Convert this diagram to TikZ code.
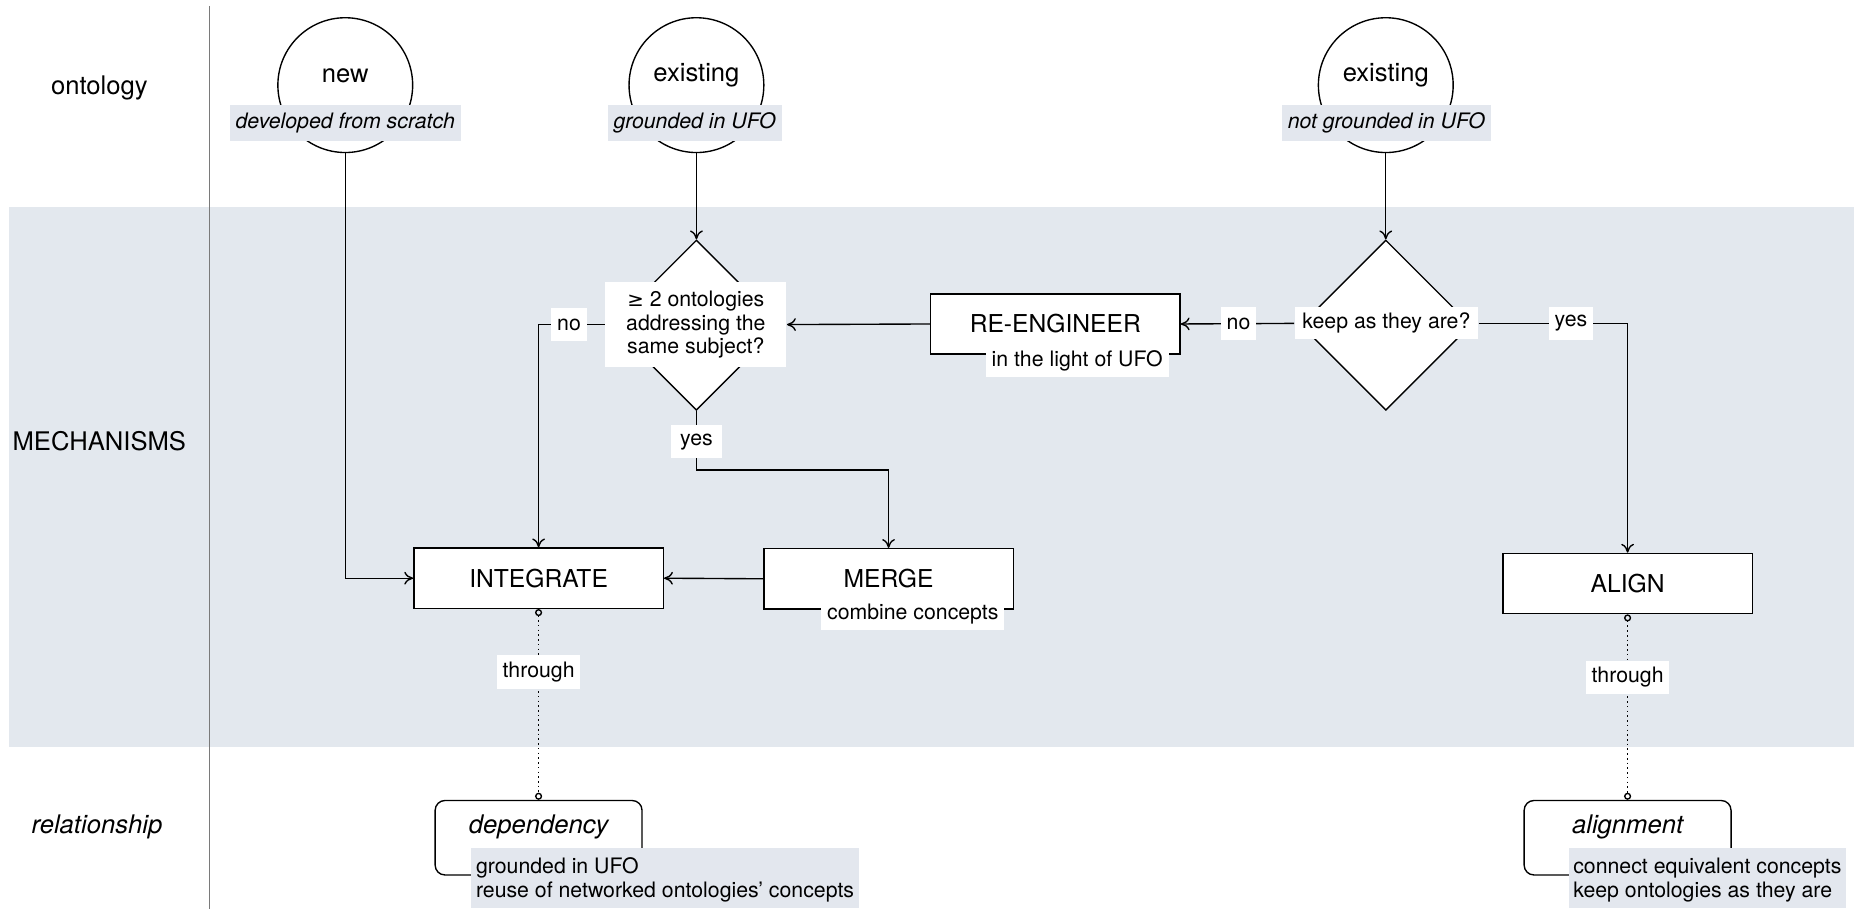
\documentclass[tikz,border=0pt]{standalone}
\usepackage{fontspec}
\setmainfont{TeX Gyre Heros}
\newfontfamily\symfont{DejaVu Sans}
\usetikzlibrary{shapes.geometric,arrows.meta}
\definecolor{bandfill}{HTML}{E3E8EE}
\definecolor{tagfill}{HTML}{E3E7EE}
\definecolor{rulegray}{HTML}{7A7A7A}
\newcommand{\txtS}{\fontsize{10.8}{11.8}\selectfont}
\newcommand{\txtD}{\fontsize{10.8}{12.2}\selectfont}
\newcommand{\txtM}{\fontsize{12.5}{14}\selectfont}
\newcommand{\txtL}{\fontsize{13}{15}\selectfont}

\begin{document}
\begin{tikzpicture}[x=0.6pt,y=-0.6pt,line width=0.7pt,
  every node/.style={inner sep=0pt},
  ring/.style={draw,circle,minimum size=68.4pt},
  mech/.style={draw,fill=white,minimum width=126.6pt,minimum height=30.6pt,font=\txtM},
  rel/.style={draw,rounded corners=5pt,minimum width=105pt,minimum height=37.8pt},
  decide/.style={draw,diamond,fill=white,minimum width=86.4pt,minimum height=86.4pt},
  tagbox/.style={fill=tagfill,font=\txtS\itshape,inner xsep=3pt,minimum height=18.6pt},
  desc/.style={fill=tagfill,font=\txtD,align=left,inner xsep=2.4pt,inner ysep=3pt,anchor=north west},
  lbl/.style={fill=white,font=\txtS,inner xsep=3pt,minimum height=17pt},
  rowlabel/.style={font=\txtL},
  flow/.style={-{To[length=4.5pt,width=6.5pt]}},
  link/.style={dash pattern=on 0.8pt off 1.6pt,
    {Circle[open,length=3.6pt,width=3.6pt]}-{Circle[open,length=3.6pt,width=3.6pt]}}
]
\useasboundingbox (0,0) rectangle (1568,769);

% mechanisms band and row separator
\fill[bandfill] (8,175) rectangle (1568,632);
\draw[rulegray,line width=0.6pt] (177,5) -- (177,769);

% row labels
\node[rowlabel] (rowOnt) at (84,74) {ontology};
\node[rowlabel] (rowMech) at (84,373) {MECHANISMS};
\node[rowlabel,font=\txtL\itshape] (rowRel) at (82,699) {relationship};

% ontologies
\node[ring] (new) at (292,72) {};
\node[font=\txtL] (newT) at (292,64) {new};
\node[tagbox] (newTag) at (292,104) {developed from scratch};

\node[ring] (exA) at (589,72) {};
\node[font=\txtL] (exAT) at (589,64) {existing};
\node[tagbox] (exATag) at (587.5,104) {grounded in UFO};

\node[ring] (exB) at (1172,72) {};
\node[font=\txtL] (exBT) at (1172,64) {existing};
\node[tagbox] (exBTag) at (1172.5,104) {not grounded in UFO};

% decisions
\node[decide] (q1) at (589,275) {};
\node[fill=white,font=\txtS,align=center,minimum width=91.8pt,minimum height=43.2pt] (q1t) at (588.5,274.5)
  {{\symfont\fontsize{10}{11.8}\selectfont ≥} 2 ontologies\\addressing the\\same subject?};
\node[decide] (q2) at (1172,275) {};
\node[fill=white,font=\txtS,minimum width=93pt,minimum height=16.2pt] (q2t) at (1172.5,273.5) {keep as they are?};

% mechanisms
\node[mech] (reeng) at (892.5,274) {RE-ENGINEER};
\node[lbl] (reengSub) at (911,305) {in the light of UFO};
\node[mech] (integ) at (455.5,489) {INTEGRATE};
\node[mech] (merge) at (751.5,489.5) {MERGE};
\node[lbl] (mergeSub) at (772,519) {combine concepts};
\node[mech] (align) at (1376.5,493.5) {ALIGN};

% relationships
\node[rel] (dep) at (455.5,708.5) {};
\node[font=\txtL\itshape] (depT) at (455.5,699) {dependency};
\node[desc] (depD) at (398,717) {\rule{0pt}{9.6pt}grounded in UFO\\reuse of networked ontologies’ concepts};
\node[rel] (alg) at (1376.5,708.5) {};
\node[font=\txtL\itshape] (algT) at (1376.5,699) {alignment};
\node[desc] (algD) at (1326,717) {\rule{0pt}{9.6pt}connect equivalent concepts\\keep ontologies as they are};

% flow
\draw[flow] (new.south) |- (integ.west);
\draw[flow] (exA.south) -- (q1.north);
\draw[flow] (exB.south) -- (q2.north);
\draw[flow] (reeng.west) -- (q1t.east);
\draw[flow] (q2t.west) -- node[lbl,pos=0.49] (noB) {no} (reeng.east);
\draw[flow] (q1t.west) -| node[lbl,pos=0.27] (noA) {no} (integ.north);
\draw[flow] (q1.south) -- node[lbl,pos=0.52,inner xsep=4.5pt] (yesA) {yes} ++(0,50) -| (merge.north);
\draw[flow] (q2t.east) -| node[lbl,pos=0.31] (yesB) {yes} (align.north);
\draw[flow] (merge.west) -- (integ.east);

% realised through
\draw[link] (integ.south) -- node[lbl,pos=0.33] (thrA) {through} (dep.north);
\draw[link] (align.south) -- node[lbl,pos=0.34] (thrB) {through} (alg.north);
\end{tikzpicture}
\end{document}
